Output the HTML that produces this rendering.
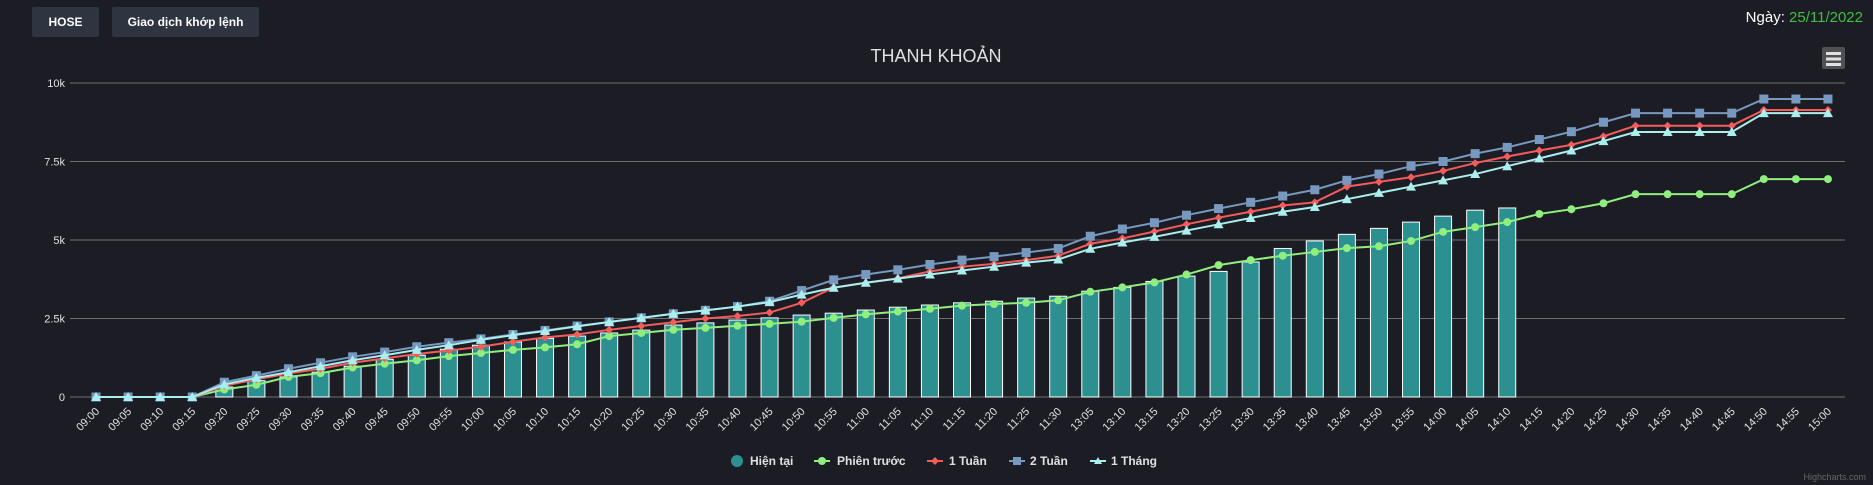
<!DOCTYPE html>
<html><head><meta charset="utf-8"><style>
body{margin:0;background:#1c1c24;width:1873px;height:485px;overflow:hidden;font-family:"Liberation Sans","Noto Sans CJK SC",sans-serif;position:relative}
.btn{position:absolute;top:7px;height:30px;line-height:30px;background:#2e3440;color:#fff;font-weight:bold;font-size:12px;border-radius:2px;text-align:center}
#date{position:absolute;top:9px;right:10px;font-size:15px;color:#fff}
#date span{color:#3ec03e}
</style></head><body>
<div class="btn" style="left:32px;width:67px">HOSE</div>
<div class="btn" style="left:112px;width:147px">Giao dịch khớp lệnh</div>
<div id="date">Ngày: <span>25/11/2022</span></div>
<svg id="chart" width="1873" height="485" style="position:absolute;left:0;top:0"></svg>
<script>
const categories=["09:00","09:05","09:10","09:15","09:20","09:25","09:30","09:35","09:40","09:45","09:50","09:55","10:00","10:05","10:10","10:15","10:20","10:25","10:30","10:35","10:40","10:45","10:50","10:55","11:00","11:05","11:10","11:15","11:20","11:25","11:30","13:05","13:10","13:15","13:20","13:25","13:30","13:35","13:40","13:45","13:50","13:55","14:00","14:05","14:10","14:15","14:20","14:25","14:30","14:35","14:40","14:45","14:50","14:55","15:00"];
const current=[0,0,0,0,0.32,0.52,0.64,0.79,0.98,1.2,1.33,1.52,1.65,1.75,1.87,1.94,2.04,2.13,2.29,2.36,2.45,2.52,2.61,2.67,2.77,2.86,2.93,3.0,3.05,3.15,3.21,3.37,3.49,3.68,3.85,4.0,4.3,4.73,4.97,5.18,5.37,5.57,5.76,5.95,6.02];
const prevSession=[0,0,0,0,0.24,0.39,0.64,0.76,0.94,1.06,1.17,1.3,1.4,1.5,1.58,1.68,1.94,2.04,2.14,2.2,2.27,2.33,2.4,2.52,2.63,2.72,2.81,2.91,2.96,3.0,3.08,3.35,3.49,3.65,3.9,4.2,4.36,4.5,4.62,4.74,4.8,4.97,5.26,5.41,5.57,5.83,5.98,6.17,6.46,6.46,6.46,6.46,6.94,6.94,6.94];
const week1=[0,0,0,0,0.36,0.56,0.75,0.9,1.09,1.23,1.37,1.48,1.6,1.76,1.9,1.99,2.14,2.26,2.38,2.5,2.58,2.69,3.0,3.49,3.64,3.78,4.0,4.15,4.24,4.36,4.5,4.88,5.05,5.27,5.5,5.71,5.9,6.1,6.2,6.7,6.85,7.0,7.2,7.45,7.66,7.85,8.03,8.3,8.64,8.64,8.64,8.64,9.14,9.14,9.14];
const week2=[0,0,0,0,0.47,0.68,0.9,1.09,1.28,1.43,1.6,1.73,1.85,1.99,2.12,2.26,2.39,2.52,2.65,2.76,2.88,3.05,3.39,3.73,3.9,4.05,4.22,4.36,4.47,4.6,4.73,5.12,5.35,5.55,5.79,6.0,6.2,6.4,6.6,6.9,7.1,7.35,7.5,7.75,7.95,8.2,8.45,8.75,9.04,9.04,9.04,9.04,9.49,9.49,9.49];
const month1=[0,0,0,0,0.4,0.61,0.79,0.98,1.17,1.33,1.5,1.65,1.82,1.97,2.1,2.25,2.39,2.52,2.65,2.76,2.88,3.02,3.26,3.48,3.64,3.77,3.9,4.03,4.15,4.28,4.38,4.72,4.92,5.1,5.3,5.5,5.7,5.9,6.05,6.3,6.5,6.7,6.9,7.1,7.35,7.6,7.85,8.15,8.44,8.44,8.44,8.44,9.04,9.04,9.04];
const yTicks=[0,2.5,5,7.5,10];
const yTickLabels=["0","2.5k","5k","7.5k","10k"];
const svg=document.getElementById('chart');
const NS='http://www.w3.org/2000/svg';
const L=80,R=1844,Y0=397,Y10=83;
const step=(R-L)/categories.length;
const xs=i=>L+step*(i+0.5);
const ys=v=>Y0-(v/10)*(Y0-Y10);
function mk(t,a,p){const e=document.createElementNS(NS,t);for(const k in a)e.setAttribute(k,a[k]);(p||svg).appendChild(e);return e;}
const title=mk('text',{x:936,y:62,'text-anchor':'middle','font-size':18,fill:'#e0e0e3'});title.textContent='THANH KHOẢN';


const menu=mk('g',{});


mk('rect',{x:1822,y:47,width:23,height:22,rx:2,fill:'#505053'},menu);
[52,57.5,63].forEach(y=>mk('rect',{x:1826,y:y,width:15,height:3,fill:'#e0e0e3'},menu));
yTicks.forEach((t,i)=>{
 const g=mk('line',{x1:70,x2:R+1,y1:ys(t),y2:ys(t),stroke:'#707073','stroke-width':1});
 
 
 const tx=mk('text',{x:65,y:ys(t)+4,'text-anchor':'end','font-size':11,fill:'#e0e0e3'});tx.textContent=yTickLabels[i];
 
 
});
categories.forEach((c,i)=>{
 const x=xs(i),y=412;
 const tx=mk('text',{x:x+4,y:y,'text-anchor':'end','font-size':11,fill:'#e0e0e3',transform:`rotate(-45 ${x+4} ${y})`});tx.textContent=c;
 
 
});
current.forEach((v,i)=>{
 const b=mk('rect',{x:xs(i)-8.5,y:ys(v),width:17,height:Y0-ys(v),fill:'#2b908f',stroke:'#fff','stroke-width':1});
 
 
});
function series(data,color,marker,name){
 const pts=data.map((v,i)=>[xs(i),ys(v)]);
 const p=mk('polyline',{points:pts.map(p=>p.join(',')).join(' '),fill:'none',stroke:color,'stroke-width':2});
 
 
 pts.forEach(([x,y])=>{
  let m;
  if(marker==='circle')m=mk('circle',{cx:x,cy:y,r:4,fill:color});
  else if(marker==='square')m=mk('rect',{x:x-4.5,y:y-4.5,width:9,height:9,fill:color});
  else if(marker==='diamond')m=mk('polygon',{points:`${x},${y-4} ${x+4},${y} ${x},${y+4} ${x-4},${y}`,fill:color});
  else m=mk('polygon',{points:`${x},${y-5} ${x+5},${y+4} ${x-5},${y+4}`,fill:color});
  
  
 });
}
series(prevSession,'#90ee7e','circle','prev-session');
series(week1,'#f45b5b','diamond','week1');
series(week2,'#7798bf','square','week2');
series(month1,'#aaeeee','triangle','month1');
const leg=[[737,'circle','#2b908f','Hiện tại',750],[822,'circle','#90ee7e','Phiên trước',837],[935,'diamond','#f45b5b','1 Tuần',949],[1017,'square','#7798bf','2 Tuần',1030],[1098,'triangle','#aaeeee','1 Tháng',1111]];
leg.forEach(([x,m,c,t,tx],i)=>{
 const g=mk('g',{});
 
 
 const y=461;
 if(i>0)mk('line',{x1:x-8,x2:x+8,y1:y,y2:y,stroke:c,'stroke-width':2},g);
 if(i===0)mk('circle',{cx:x,cy:y,r:6,fill:c},g);
 else if(m==='circle')mk('circle',{cx:x,cy:y,r:4,fill:c},g);
 else if(m==='diamond')mk('polygon',{points:`${x},${y-4} ${x+4},${y} ${x},${y+4} ${x-4},${y}`,fill:c},g);
 else if(m==='square')mk('rect',{x:x-4,y:y-4,width:8,height:8,fill:c},g);
 else mk('polygon',{points:`${x},${y-4} ${x+4},${y+3} ${x-4},${y+3}`,fill:c},g);
 const te=mk('text',{x:tx,y:y+4,'font-size':12,'font-weight':'bold',fill:'#e0e0e3'},g);te.textContent=t;
});
const cr=mk('text',{x:1866,y:480,'text-anchor':'end','font-size':9,fill:'#666'});cr.textContent='Highcharts.com';


</script>
</body></html>
